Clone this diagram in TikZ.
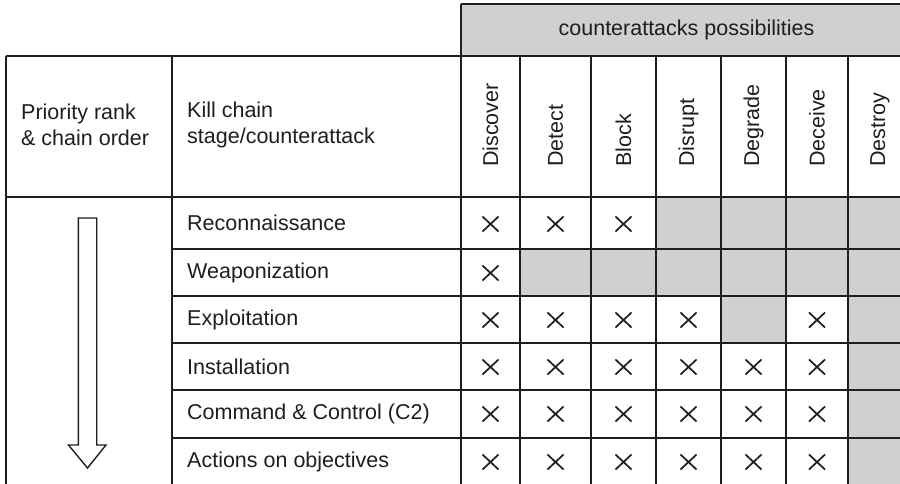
\documentclass[tikz,border=0pt]{standalone}
\usepackage{fontspec}
\setmainfont{Liberation Sans}
\usetikzlibrary{shapes.misc}
\definecolor{cellgray}{HTML}{D0D0D0}
\definecolor{ink}{HTML}{1E1E1E}
\begin{document}
\begin{tikzpicture}[x=1pt,y=-1pt,
  gridline/.style={draw=ink,line width=1.6pt},
  txt/.style={font=\fontsize{21.5}{26}\selectfont,text=ink,inner sep=0pt},
  lbl/.style={txt,anchor=west,align=left},
  colhead/.style={txt,rotate=90,anchor=west},
  xmk/.style={cross out,draw=ink,line width=1.7pt,minimum width=14.5pt,minimum height=13.5pt,inner sep=0pt},
  shade/.style={fill=cellgray}]
\useasboundingbox (0,0) rectangle (900,483);
\clip (0,0) rectangle (900,483);
% grey areas
\fill[shade] (461,4) rectangle (912,56);
\fill[shade] (656,197) rectangle (912,249);
\fill[shade] (520,249) rectangle (912,296);
\fill[shade] (721,296) rectangle (786,343);
\fill[shade] (848,296) rectangle (912,490);
% grid
\draw[gridline] (461,4) -- (912,4);
\draw[gridline] (6,56) -- (912,56);
\draw[gridline] (6,197) -- (912,197);
\foreach \yy in {249,296,343,390,438}{\draw[gridline] (172,\yy) -- (912,\yy);}
\draw[gridline] (461,4) -- (461,490);
\foreach \xx in {6,172}{\draw[gridline] (\xx,56) -- (\xx,490);}
\foreach \xx in {520,591,656,721,786,848,912}{\draw[gridline] (\xx,56) -- (\xx,490);}
% header texts
\node[txt] (poss) at (686.5,30) {counterattacks possibilities};
\node[lbl] (prio) at (21,125) {Priority rank\\\& chain order};
\node[lbl] (kc) at (187,125) {Kill chain\\stage/counterattack};
\node[colhead] (hDiscover) at (490.5,167) {Discover};
\node[colhead] (hDetect) at (555.5,167) {Detect};
\node[colhead] (hBlock) at (623.5,167) {Block};
\node[colhead] (hDisrupt) at (688.5,167) {Disrupt};
\node[colhead] (hDegrade) at (753.5,167) {Degrade};
\node[colhead] (hDeceive) at (817,167) {Deceive};
\node[colhead] (hDestroy) at (880,167) {Destroy};
% stage names
\node[lbl] (s1) at (187,223) {Reconnaissance};
\node[lbl] (s2) at (187,272.5) {Weaponization};
\node[lbl] (s3) at (187,319.5) {Exploitation};
\node[lbl] (s4) at (187,366.5) {Installation};
\node[lbl] (s5) at (187,414) {Command \& Control (C2)};
\node[lbl] (s6) at (187,461.5) {Actions on objectives};
% crosses
\foreach \r/\yy/\cols in {1/224/{490.5,555.5,623.5},2/273/{490.5},3/320/{490.5,555.5,623.5,688.5,817},4/367/{490.5,555.5,623.5,688.5,753.5,817},5/414/{490.5,555.5,623.5,688.5,753.5,817},6/462/{490.5,555.5,623.5,688.5,753.5,817}}{
  \foreach \xx [count=\c] in \cols {\node[xmk] (x\r-\c) at (\xx,\yy) {};}
}
% priority arrow
\draw[draw=ink,line width=1.4pt,line join=miter] (78.3,218) -- (96.7,218) -- (96.7,445) -- (106,445) -- (87.5,468) -- (68.5,445) -- (78.3,445) -- cycle;
\end{tikzpicture}
\end{document}
